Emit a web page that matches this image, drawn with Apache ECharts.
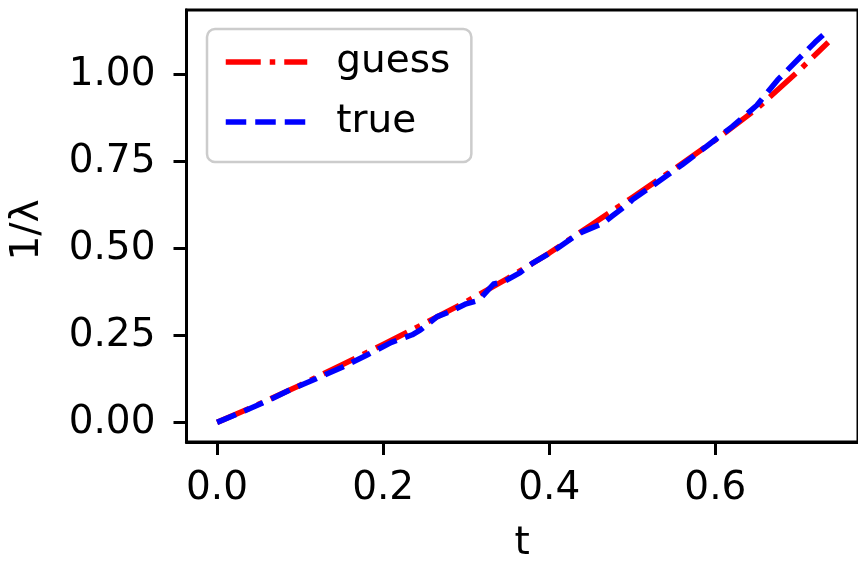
<!DOCTYPE html>
<html>
<head>
<meta charset="utf-8">
<script src="https://cdn.jsdelivr.net/npm/echarts@6/dist/echarts.min.js"></script>
<style>html,body{margin:0;padding:0;background:#fff}#c{width:858px;height:568px}</style>
</head>
<body>
<div id="c"></div>
<script>
// guess (smooth) curve
const guessT = [0, 0.05, 0.10, 0.15, 0.20, 0.25, 0.30, 0.35, 0.40, 0.45, 0.50, 0.55, 0.60, 0.65, 0.70, 0.736];
const guessV = [0, 0.052, 0.107, 0.165, 0.224, 0.285, 0.347, 0.414, 0.487, 0.567, 0.647, 0.728, 0.812, 0.902, 1.010, 1.093];
// true (jagged) curve
const trueT = [0, 0.03, 0.06, 0.09, 0.12, 0.15, 0.18, 0.21, 0.235, 0.245, 0.265, 0.28, 0.30, 0.315, 0.333, 0.345, 0.365, 0.38, 0.40, 0.41, 0.43, 0.44, 0.465, 0.475, 0.495, 0.50, 0.53, 0.56, 0.59, 0.62, 0.65, 0.675, 0.70, 0.72, 0.736];
const trueV = [0, 0.030, 0.061, 0.096, 0.126, 0.158, 0.193, 0.230, 0.252, 0.266, 0.304, 0.318, 0.341, 0.351, 0.398, 0.404, 0.431, 0.458, 0.486, 0.501, 0.534, 0.548, 0.573, 0.592, 0.628, 0.640, 0.690, 0.741, 0.795, 0.850, 0.912, 0.985, 1.045, 1.093, 1.128];
const xTicks = [0, 0.2, 0.4, 0.6];
const yTicks = [0, 0.25, 0.5, 0.75, 1.0];

const FONT = 'DejaVu Sans';
const FS = 39;
const chart = echarts.init(document.getElementById('c'), null, {renderer: 'canvas'});
chart.setOption({
  animation: false,
  backgroundColor: '#fff',
  textStyle: {fontFamily: FONT},
  grid: {left: 186.5, top: 10, width: 675.2, height: 441, show: true, borderColor: '#000', borderWidth: 3, backgroundColor: 'transparent'},
  legend: {
    orient: 'vertical', left: 207, top: 29,
    padding: [13, 21, 20, 16],
    itemGap: 20, itemWidth: 81.5, itemHeight: 40,
    backgroundColor: '#fff', borderColor: '#cccccc', borderWidth: 2.5, borderRadius: 8,
    textStyle: {fontFamily: FONT, fontSize: FS, color: '#000', lineHeight: 40, padding: [0, 0, 0, 24]},
    lineStyle: {width: 5.5},
    itemStyle: {opacity: 0},
    data: ['guess', 'true']
  },
  xAxis: {
    type: 'value', min: -0.0368, max: 0.7718,
    name: 't', nameLocation: 'middle', nameGap: 82,
    nameTextStyle: {fontFamily: FONT, fontSize: FS, color: '#000'},
    axisLine: {show: true, onZero: false, lineStyle: {color: '#000', width: 3}},
    axisTick: {show: true, length: 13, lineStyle: {color: '#000', width: 3}, customValues: xTicks},
    axisLabel: {fontFamily: FONT, fontSize: FS, color: '#000', margin: 27, customValues: xTicks, formatter: v => v.toFixed(1)},
    splitLine: {show: false}
  },
  yAxis: {
    type: 'value', min: -0.0564, max: 1.186,
    name: '1/λ', nameLocation: 'middle', nameGap: 139,
    nameTextStyle: {fontFamily: FONT, fontSize: FS, color: '#000', padding: [0, 8, 0, 0]},
    axisLine: {show: true, onZero: false, lineStyle: {color: '#000', width: 3}},
    axisTick: {show: true, length: 13, lineStyle: {color: '#000', width: 3}, customValues: yTicks},
    axisLabel: {fontFamily: FONT, fontSize: FS, color: '#000', margin: 31, customValues: yTicks, formatter: v => v.toFixed(2)},
    splitLine: {show: false}
  },
  series: [
    {
      name: 'guess', type: 'line', symbol: 'none', showSymbol: false,
      data: guessT.map((t, i) => [t, guessV[i]]),
      lineStyle: {color: '#ff0000', width: 5.5, type: [35, 9, 5.5, 9], cap: 'butt', join: 'round'},
      itemStyle: {color: '#ff0000'}, z: 2
    },
    {
      name: 'true', type: 'line', symbol: 'none', showSymbol: false,
      data: trueT.map((t, i) => [t, trueV[i]]),
      lineStyle: {color: '#0000ff', width: 5.5, type: [20.5, 9], cap: 'butt', join: 'round'},
      itemStyle: {color: '#0000ff'}, z: 3
    }
  ]
});
</script>
</body>
</html>
